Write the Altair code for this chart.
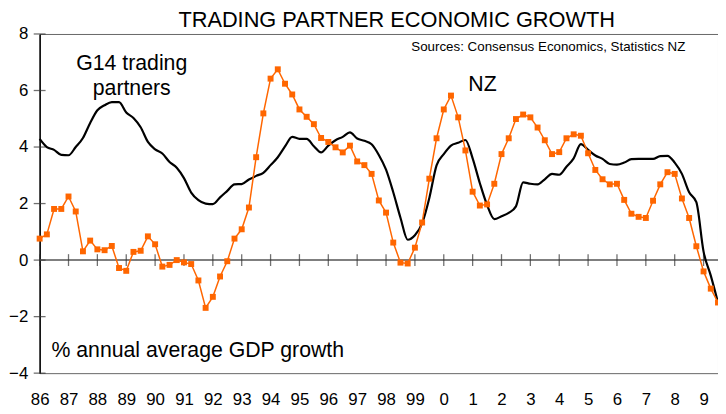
import altair as alt
import pandas as pd

FONT = "Liberation Sans"
start_year = 1986
title_text = "TRADING PARTNER ECONOMIC GROWTH"

# G14 trading partners, % annual average GDP growth (quarterly, from 1986Q1)
g14 = [4.29, 4.0, 3.9, 3.72, 3.71, 4.0, 4.32, 4.85, 5.3, 5.48,
       5.59, 5.59, 5.22, 5.03, 4.7, 4.18, 3.92, 3.77, 3.47, 3.27,
       2.9, 2.39, 2.12, 2.0, 1.98, 2.22, 2.45, 2.68, 2.69, 2.85,
       2.98, 3.09, 3.36, 3.64, 4.02, 4.36, 4.29, 4.29, 4.03, 3.81,
       4.05, 4.24, 4.36, 4.52, 4.3, 4.22, 4.1, 3.72, 3.2, 2.4,
       1.5, 0.72, 0.88, 1.3, 2.2, 3.35, 3.75, 4.05, 4.15, 4.25,
       3.6, 2.72, 1.95, 1.45, 1.55, 1.67, 1.9, 2.75, 2.7, 2.68,
       2.86, 3.05, 3.02, 3.3, 3.6, 4.1, 3.9, 3.7, 3.58, 3.4,
       3.38, 3.45, 3.57, 3.58, 3.58, 3.58, 3.68, 3.69, 3.45, 3.05,
       2.4, 2.05, 0.3, -0.55, -1.5]

# NZ, % annual average GDP growth (quarterly, from 1986Q1)
nz = [0.76, 0.91, 1.81, 1.81, 2.25, 1.72, 0.31, 0.69, 0.38, 0.35,
      0.5, -0.28, -0.38, 0.29, 0.33, 0.84, 0.56, -0.23, -0.17, 0.0,
      -0.08, -0.14, -0.72, -1.69, -1.3, -0.58, -0.04, 0.76, 1.09, 1.86,
      3.64, 5.19, 6.42, 6.75, 6.24, 5.86, 5.33, 5.07, 4.81, 4.32,
      4.18, 3.99, 3.81, 4.05, 3.49, 3.36, 3.05, 2.11, 1.68, 0.62,
      -0.09, -0.12, 0.44, 1.33, 2.88, 4.31, 5.33, 5.82, 5.05, 3.88,
      2.42, 1.93, 1.97, 2.7, 3.75, 4.31, 4.99, 5.15, 5.05, 4.69,
      4.24, 3.75, 3.82, 4.31, 4.45, 4.4, 3.78, 3.19, 2.86, 2.68,
      2.7, 2.13, 1.64, 1.53, 1.49, 2.1, 2.68, 3.11, 3.05, 2.18,
      1.49, 0.49, -0.4, -1.01, -1.5]

year_ticks = list(range(1986, 2010))
y_ticks = [-4, -2, 0, 2, 4, 6, 8]

quarters = [start_year + i / 4 for i in range(len(nz))]
df = pd.DataFrame({"t": quarters, "G14": g14, "NZ": nz})

xs = alt.Scale(domain=[1986, 2009.5], nice=False, zero=False)
ys = alt.Scale(domain=[-4, 8], nice=False, zero=False)

x_axis = alt.Axis(values=year_ticks, labelExpr="toString(datum.value % 100)",
                  ticks=False, domain=False, grid=False, labelPadding=19,
                  labelFontSize=17, labelColor="black", labelFont=FONT,
                  labelFlush=False, labelOverlap=False, labelBound=False, title=None)
y_axis = alt.Axis(values=y_ticks, ticks=False, domain=True, domainColor="black",
                  domainWidth=1.5, grid=False, labelPadding=12, labelFontSize=17,
                  labelColor="black", labelFont=FONT, labelFlush=False,
                  labelOverlap=False, labelBound=False, title=None)

X = lambda f: alt.X(f, scale=xs, axis=x_axis)
Y = lambda f: alt.Y(f, scale=ys, axis=y_axis)

base = alt.Chart(df)
g14_line = base.mark_line(color="black", strokeWidth=2.2, interpolate="monotone").encode(
    x=X("t:Q"), y=Y("G14:Q"))
nz_line = base.mark_line(color="#FF6600", strokeWidth=1.5).encode(x=X("t:Q"), y=Y("NZ:Q"))
nz_pts = base.mark_square(color="#FF6600", size=36, opacity=1).encode(x=X("t:Q"), y=Y("NZ:Q"))

zero = alt.Chart(pd.DataFrame({"v": [0]})).mark_rule(color="#555555", strokeWidth=1.5).encode(y=Y("v:Q"))

xt = alt.Chart(pd.DataFrame({"yr": year_ticks, "z": [0] * len(year_ticks)})).mark_tick(
    orient="vertical", size=12, thickness=1.3, color="#333333").encode(x=X("yr:Q"), y=Y("z:Q"))
yt = alt.Chart(pd.DataFrame({"v": y_ticks, "x0": [1986] * len(y_ticks)})).mark_tick(
    orient="horizontal", size=12, thickness=1.3, color="#333333").encode(x=X("x0:Q"), y=Y("v:Q"))


def label(x, y, s, size, align, baseline="middle"):
    d = pd.DataFrame({"x": x, "y": y, "s": s})
    return alt.Chart(d).mark_text(font=FONT, fontSize=size, align=align, baseline=baseline,
                                  color="black").encode(x=X("x:Q"), y=Y("y:Q"), text="s:N")


title_txt = label([1998.37], [8.25], [title_text], 22, "center", "alphabetic")
big_txt = label([1989.19, 1989.19], [6.92, 6.04], ["G14 trading", "partners"], 21.5, "center")
nz_txt = label([2000.85], [6.18], ["NZ"], 21.5, "left")
unit_txt = label([1986.41], [-3.23], ["% annual average GDP growth"], 21.5, "left")
src_txt = label([2008.37], [7.55], ["Sources: Consensus Economics, Statistics NZ"], 13.5, "right")

chart = alt.layer(zero, xt, yt, g14_line, nz_line, nz_pts, title_txt, big_txt, nz_txt,
                  unit_txt, src_txt).properties(
    width=686, height=343,
    autosize=alt.AutoSizeParams(type="none"),
    padding={"left": 32, "top": 24, "right": 0, "bottom": 36},
).configure_view(stroke="#666666", strokeWidth=1)

chart.save("out.html", embed_options={"renderer": "svg", "actions": False})
